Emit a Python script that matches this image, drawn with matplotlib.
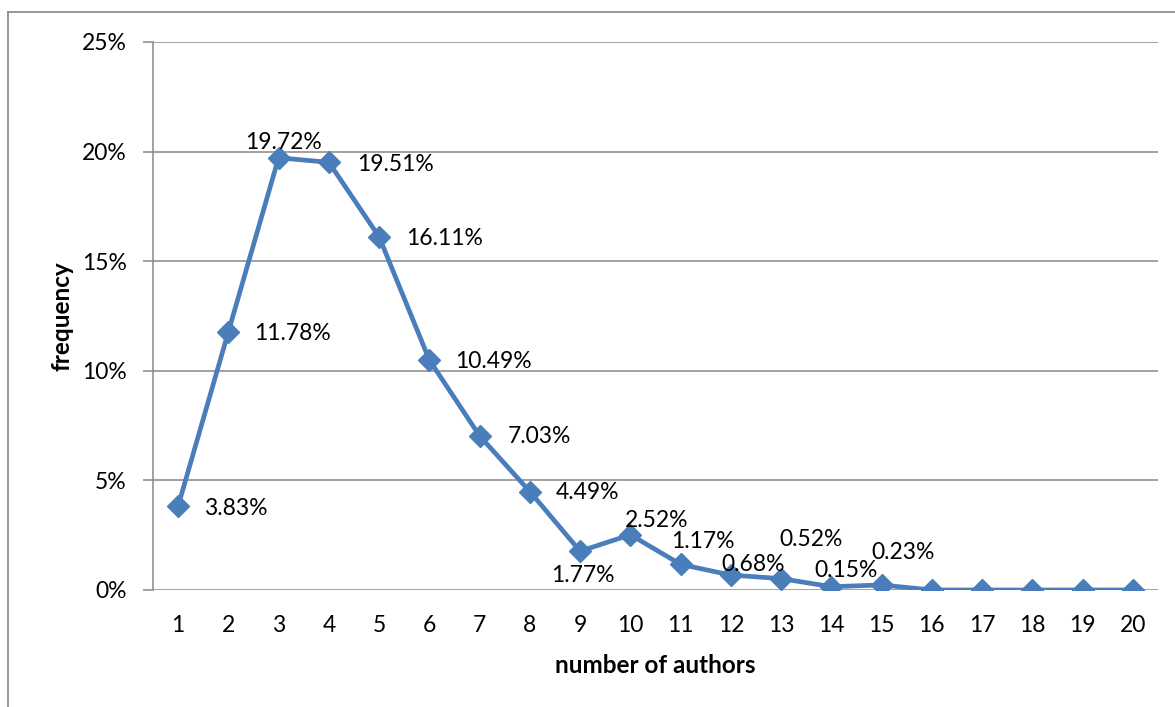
import matplotlib
matplotlib.use("Agg")
import matplotlib.pyplot as plt
from matplotlib.lines import Line2D
from matplotlib.ticker import FuncFormatter, MultipleLocator

plt.rcParams['font.family'] = ['Lato', 'DejaVu Sans']

# share of papers by number of authors
authors = list(range(1, 21))
freq = [3.83, 11.78, 19.72, 19.51, 16.11, 10.49, 7.03, 4.49, 1.77, 2.52,
        1.17, 0.68, 0.52, 0.15, 0.23, 0, 0, 0, 0, 0]
# label offsets (pixels, left edge of text) from each point, Excel-style placement
label_offsets = [(26, -2), (26, -2), (-34, 15), (28, -2), (27, -2), (26, -1),
                 (28, -1), (26, -1), (-29, -24), (-6, 14), (-10, 23), (-10, 11),
                 (-2, 39), (-17, 16), (-10, 32)]

blue = '#4a7ebb'
grid = '#888888'
fs = 16.5

fig = plt.figure(figsize=(11.75, 7.07), dpi=100)
ax = fig.add_axes([153 / 1175, 1 - 590 / 707, 1005 / 1175, 548 / 707])

ax.plot(authors, freq, color=blue, lw=3.4, marker='D', ms=11.5,
        markerfacecolor=blue, markeredgecolor=blue, zorder=3)

for x, v, (dx, dy) in zip(authors, freq, label_offsets):
    ax.annotate(f"{v:.2f}%", (x, v), xytext=(dx, dy), textcoords='offset pixels',
                ha='left', va='center', fontsize=fs, color='black', zorder=4)

ax.set_xlim(0.5, 20.5)
ax.set_ylim(0, 25)
ax.set_xticks(authors)
ax.yaxis.set_major_locator(MultipleLocator(5))
ax.yaxis.set_major_formatter(FuncFormatter(lambda v, _: f"{v:.0f}%"))
ax.grid(axis='y', color=grid, lw=1.1)
ax.set_axisbelow(True)

for s in ['top', 'right', 'bottom']:
    ax.spines[s].set_visible(False)
ax.spines['left'].set_color(grid)
ax.spines['left'].set_linewidth(1.1)
ax.tick_params(axis='y', length=7, color=grid, width=1.1, labelsize=fs, pad=12)
ax.tick_params(axis='x', length=0, labelsize=fs, pad=18)

ax.set_xlabel('number of authors', fontsize=17.5, fontweight='bold', labelpad=13)
ax.set_ylabel('frequency', fontsize=17.5, fontweight='bold', labelpad=6)

# outer chart frame
fig.add_artist(Line2D([8 / 1175, 8 / 1175], [0, 1 - 12 / 707], transform=fig.transFigure,
                      color=grid, lw=1.2))
fig.add_artist(Line2D([8 / 1175, 1], [1 - 12 / 707, 1 - 12 / 707], transform=fig.transFigure,
                      color=grid, lw=1.2))

fig.savefig('out.png', dpi=100)
